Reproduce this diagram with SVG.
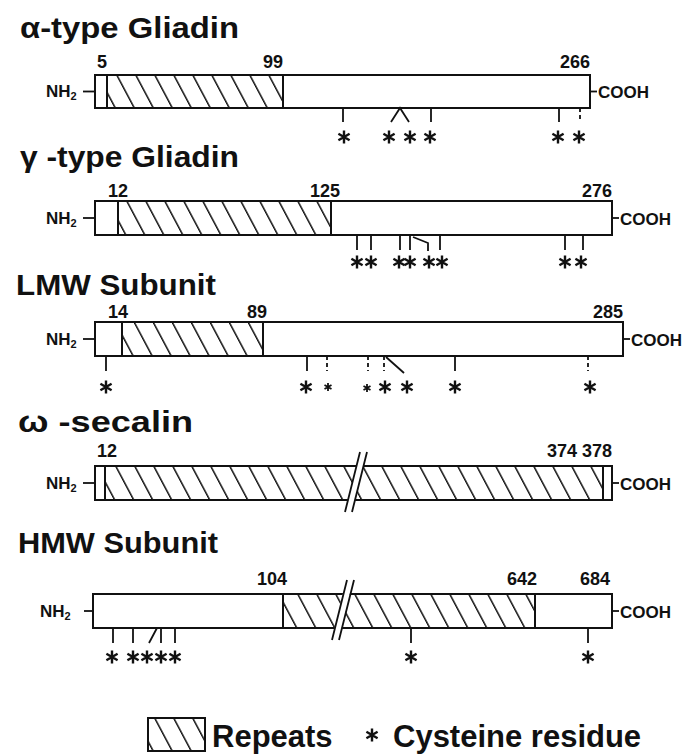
<svg xmlns="http://www.w3.org/2000/svg" xmlns:xlink="http://www.w3.org/1999/xlink" width="691" height="754" viewBox="0 0 691 754">
<defs>
<pattern id="hatch" patternUnits="userSpaceOnUse" width="19" height="40" patternTransform="skewX(28)"><rect x="0" y="0" width="1.7" height="40" fill="#111"/></pattern>
<g id="star"><path d="M0,-6.5V6.5M-5.6,-3.25L5.6,3.25M-5.6,3.25L5.6,-3.25" stroke="#111" stroke-width="2.4" fill="none"/></g>
<g id="starS"><path d="M0,-4V4M-3.5,-2L3.5,2M-3.5,2L3.5,-2" stroke="#111" stroke-width="1.8" fill="none"/></g>
</defs>
<style>
.t{font-family:"Liberation Sans",Arial,Helvetica,sans-serif;font-weight:bold;fill:#111}
.title{font-size:30px}
.num{font-size:18px}
.lab{font-size:17px}
.leg{font-size:31px}
.bg{fill:#fff;stroke:none}
.ol{fill:none;stroke:#111;stroke-width:2}
.hl{stroke:#111;stroke-width:2;fill:none}
.tk{stroke:#111;stroke-width:1.8;fill:none}
.dash{stroke-dasharray:4 3}
.brk{fill:#fff;stroke:none}
</style>
<rect width="691" height="754" fill="#fff"/>

<g id="alpha-gliadin">
<text class="t title" x="20" y="38" textLength="219" lengthAdjust="spacingAndGlyphs">α-type Gliadin</text>
<text class="t num" x="97" y="68">5</text>
<text class="t num" x="283" y="68" text-anchor="end">99</text>
<text class="t num" x="590" y="68" text-anchor="end">266</text>
<rect class="bg" x="95" y="75" width="495" height="33"/>
<rect x="107" y="75" width="176" height="33" fill="url(#hatch)"/>
<line class="hl" x1="107" y1="75" x2="107" y2="108"/>
<line class="hl" x1="283" y1="75" x2="283" y2="108"/>
<rect class="ol" x="95" y="75" width="495" height="33"/>
<text class="t lab" x="46" y="97">NH<tspan font-size="11" dy="3">2</tspan></text>
<line class="tk" x1="83" y1="91.5" x2="95" y2="91.5"/>
<line class="tk" x1="590" y1="91.5" x2="597" y2="91.5"/>
<text class="t lab" x="598" y="98">COOH</text>
</g>

<g id="gamma-gliadin">
<text class="t title" x="20" y="167" textLength="219" lengthAdjust="spacingAndGlyphs">γ -type Gliadin</text>
<text class="t num" x="108" y="197">12</text>
<text class="t num" x="340" y="197" text-anchor="end">125</text>
<text class="t num" x="612" y="197" text-anchor="end">276</text>
<rect class="bg" x="95" y="201" width="517" height="34"/>
<rect x="118" y="201" width="213" height="34" fill="url(#hatch)"/>
<line class="hl" x1="118" y1="201" x2="118" y2="235"/>
<line class="hl" x1="331" y1="201" x2="331" y2="235"/>
<rect class="ol" x="95" y="201" width="517" height="34"/>
<text class="t lab" x="46" y="224">NH<tspan font-size="11" dy="3">2</tspan></text>
<line class="tk" x1="83" y1="218" x2="95" y2="218"/>
<line class="tk" x1="612" y1="218" x2="619" y2="218"/>
<text class="t lab" x="620" y="225">COOH</text>
</g>

<g id="lmw-subunit">
<text class="t title" x="16" y="295" textLength="200" lengthAdjust="spacingAndGlyphs">LMW Subunit</text>
<text class="t num" x="108" y="318">14</text>
<text class="t num" x="267" y="318" text-anchor="end">89</text>
<text class="t num" x="623" y="318" text-anchor="end">285</text>
<rect class="bg" x="95" y="322" width="528" height="34"/>
<rect x="122" y="322" width="141" height="34" fill="url(#hatch)"/>
<line class="hl" x1="122" y1="322" x2="122" y2="356"/>
<line class="hl" x1="263" y1="322" x2="263" y2="356"/>
<rect class="ol" x="95" y="322" width="528" height="34"/>
<text class="t lab" x="46" y="345">NH<tspan font-size="11" dy="3">2</tspan></text>
<line class="tk" x1="83" y1="339" x2="95" y2="339"/>
<line class="tk" x1="623" y1="339" x2="630" y2="339"/>
<text class="t lab" x="631" y="346">COOH</text>
</g>

<g id="omega-secalin">
<text class="t title" x="18" y="432" textLength="175" lengthAdjust="spacingAndGlyphs">ω -secalin</text>
<text class="t num" x="97" y="457">12</text>
<text class="t num" x="612" y="457" text-anchor="end" font-size="17">374 378</text>
<rect class="bg" x="95" y="466" width="517" height="34"/>
<rect x="105" y="466" width="498" height="34" fill="url(#hatch)"/>
<line class="hl" x1="105" y1="466" x2="105" y2="500"/>
<line class="hl" x1="603" y1="466" x2="603" y2="500"/>
<rect class="ol" x="95" y="466" width="517" height="34"/>
<polygon class="brk" points="357,463 364,463 354.5,503 347.5,503"/>
<line class="tk" x1="360" y1="452" x2="345" y2="512"/>
<line class="tk" x1="367" y1="452" x2="352" y2="512"/>
<text class="t lab" x="46" y="489">NH<tspan font-size="11" dy="3">2</tspan></text>
<line class="tk" x1="83" y1="483" x2="95" y2="483"/>
<line class="tk" x1="612" y1="483" x2="619" y2="483"/>
<text class="t lab" x="620" y="490">COOH</text>
</g>

<g id="hmw-subunit">
<text class="t title" x="18" y="553" textLength="200" lengthAdjust="spacingAndGlyphs">HMW Subunit</text>
<text class="t num" x="287" y="585" text-anchor="end">104</text>
<text class="t num" x="537" y="585" text-anchor="end">642</text>
<text class="t num" x="610" y="585" text-anchor="end">684</text>
<rect class="bg" x="93" y="594" width="519" height="34"/>
<rect x="283" y="594" width="252" height="34" fill="url(#hatch)"/>
<line class="hl" x1="283" y1="594" x2="283" y2="628"/>
<line class="hl" x1="535" y1="594" x2="535" y2="628"/>
<rect class="ol" x="93" y="594" width="519" height="34"/>
<polygon class="brk" points="343.5,591 350.5,591 341,631 334,631"/>
<line class="tk" x1="347" y1="580" x2="332" y2="640"/>
<line class="tk" x1="354" y1="580" x2="339" y2="640"/>
<text class="t lab" x="40" y="617">NH<tspan font-size="11" dy="3">2</tspan></text>
<line class="tk" x1="84" y1="611" x2="93" y2="611"/>
<line class="tk" x1="612" y1="611" x2="619" y2="611"/>
<text class="t lab" x="620" y="618">COOH</text>
</g>

<g id="cysteine-connectors">
<line class="tk" x1="343" y1="108" x2="343" y2="122"/>
<polyline class="tk" points="391,122 400,108 409,122"/>
<line class="tk" x1="431" y1="108" x2="431" y2="122"/>
<line class="tk" x1="559" y1="108" x2="559" y2="122"/>
<line class="tk dash" x1="580" y1="108" x2="580" y2="122"/>

<line class="tk" x1="357" y1="235" x2="357" y2="250"/>
<line class="tk" x1="371" y1="235" x2="371" y2="250"/>
<line class="tk" x1="400" y1="235" x2="400" y2="250"/>
<line class="tk" x1="410" y1="235" x2="410" y2="250"/>
<polyline class="tk" points="413,237 428,243 428,251"/>
<line class="tk" x1="440" y1="235" x2="440" y2="250"/>
<line class="tk" x1="565" y1="235" x2="565" y2="250"/>
<line class="tk" x1="583" y1="235" x2="583" y2="250"/>

<line class="tk" x1="106" y1="356" x2="106" y2="371"/>
<line class="tk" x1="307" y1="356" x2="307" y2="371"/>
<line class="tk dash" x1="327" y1="356" x2="327" y2="371"/>
<line class="tk dash" x1="368" y1="356" x2="368" y2="371"/>
<line class="tk dash" x1="384" y1="356" x2="384" y2="371"/>
<line class="tk" x1="386" y1="357" x2="404" y2="373"/>
<line class="tk" x1="455" y1="356" x2="455" y2="371"/>
<line class="tk dash" x1="588" y1="356" x2="588" y2="371"/>

<line class="tk" x1="113" y1="628" x2="113" y2="643"/>
<line class="tk" x1="133" y1="628" x2="133" y2="643"/>
<line class="tk" x1="157" y1="628" x2="149" y2="643"/>
<line class="tk" x1="161" y1="628" x2="161" y2="643"/>
<line class="tk" x1="175" y1="628" x2="175" y2="643"/>
<line class="tk" x1="411" y1="628" x2="411" y2="643"/>
<line class="tk" x1="588" y1="628" x2="588" y2="643"/>
</g>

<g id="cysteine-residues">
<use xlink:href="#star" x="344" y="137"/>
<use xlink:href="#star" x="389" y="137"/>
<use xlink:href="#star" x="410" y="137"/>
<use xlink:href="#star" x="430" y="137"/>
<use xlink:href="#star" x="558" y="137"/>
<use xlink:href="#star" x="579" y="137"/>

<use xlink:href="#star" x="357" y="262"/>
<use xlink:href="#star" x="371" y="262"/>
<use xlink:href="#star" x="399" y="262"/>
<use xlink:href="#star" x="410" y="262"/>
<use xlink:href="#star" x="429" y="262"/>
<use xlink:href="#star" x="442" y="262"/>
<use xlink:href="#star" x="565" y="262"/>
<use xlink:href="#star" x="581" y="262"/>

<use xlink:href="#star" x="106" y="387"/>
<use xlink:href="#star" x="306" y="387"/>
<use xlink:href="#starS" x="328" y="387"/>
<use xlink:href="#starS" x="367" y="388"/>
<use xlink:href="#star" x="385" y="387"/>
<use xlink:href="#star" x="407" y="387"/>
<use xlink:href="#star" x="455" y="387"/>
<use xlink:href="#star" x="590" y="387"/>

<use xlink:href="#star" x="112" y="657"/>
<use xlink:href="#star" x="133" y="657"/>
<use xlink:href="#star" x="147" y="657"/>
<use xlink:href="#star" x="161" y="657"/>
<use xlink:href="#star" x="175" y="657"/>
<use xlink:href="#star" x="411" y="657"/>
<use xlink:href="#star" x="588" y="657"/>
</g>

<g id="legend">
<rect x="148" y="718" width="57" height="33" fill="url(#hatch)"/>
<rect class="ol" x="148" y="718" width="57" height="33"/>
<text class="t leg" x="212" y="747">Repeats</text>
<use xlink:href="#star" x="372" y="735"/>
<text class="t leg" x="393" y="747">Cysteine residue</text>
</g>
</svg>
